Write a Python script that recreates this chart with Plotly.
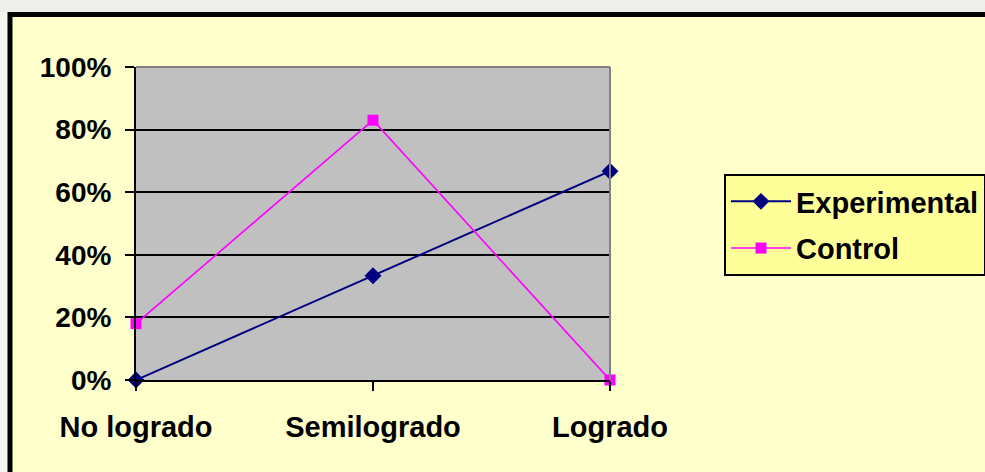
import plotly.graph_objects as go

categories = ["No logrado", "Semilogrado", "Logrado"]
experimental = [0, 33.3, 66.7]
control = [18, 83, 0]
y_ticks = [0, 20, 40, 60, 80, 100]
y_tick_labels = ["0%", "20%", "40%", "60%", "80%", "100%"]

FIG_W, FIG_H = 985, 472
L, R, T, B = 136, 375, 67, 92
PW = FIG_W - L - R
PH = FIG_H - T - B

def xp(px):
    return (px - L) / PW

def yp(py):
    return (FIG_H - B - py) / PH

FONT = "Liberation Sans, Arial, sans-serif"

fig = go.Figure()
fig.add_trace(go.Scatter(
    x=list(range(len(categories))), y=experimental, name="Experimental",
    mode="lines+markers", legendgroup="a",
    line=dict(color="#000080", width=2),
    marker=dict(symbol="diamond", size=13, color="#000080"),
    cliponaxis=False,
))
fig.add_trace(go.Scatter(
    x=list(range(len(categories))), y=control, name="Control",
    mode="lines+markers", legendgroup="b",
    line=dict(color="#FF00FF", width=1.6),
    marker=dict(symbol="square", size=11, color="#FF00FF"),
    cliponaxis=False,
))

shapes = [
    # watermark strip above chart
    dict(type="rect", xref="paper", yref="paper", x0=xp(-5), x1=xp(FIG_W + 10),
         y0=yp(12), y1=yp(-5), fillcolor="#EEEEEA", line=dict(width=0), layer="above"),
    # strip left of chart
    dict(type="rect", xref="paper", yref="paper", x0=xp(-5), x1=xp(8),
         y0=yp(FIG_H + 10), y1=yp(12), fillcolor="#F4F4F0", line=dict(width=0), layer="above"),
    # chart border
    dict(type="line", xref="paper", yref="paper", x0=xp(10), x1=xp(10),
         y0=yp(12), y1=yp(FIG_H + 10), line=dict(color="black", width=5), layer="above"),
    dict(type="line", xref="paper", yref="paper", x0=xp(8), x1=xp(FIG_W + 10),
         y0=yp(14.5), y1=yp(14.5), line=dict(color="black", width=5), layer="above"),
    # plot area top/right border
    dict(type="line", xref="paper", yref="paper", x0=0, x1=1, y0=1, y1=1,
         line=dict(color="#808080", width=2), layer="above"),
    dict(type="line", xref="paper", yref="paper", x0=1, x1=1, y0=0, y1=1,
         line=dict(color="#808080", width=2), layer="above"),
]

fig.update_layout(
    width=FIG_W, height=FIG_H,
    margin=dict(l=L, r=R, t=T, b=B, autoexpand=False),
    paper_bgcolor="#FFFFCC",
    plot_bgcolor="#C0C0C0",
    font=dict(family=FONT, color="black", size=28, weight="bold"),
    showlegend=True,
    legend=dict(
        x=xp(724), y=yp(174), xanchor="left", yanchor="top",
        bgcolor="#FFFF99", bordercolor="black", borderwidth=2,
        font=dict(family=FONT, size=29, color="black", weight="bold"),
        traceorder="grouped", tracegroupgap=6, itemwidth=60,
    ),
    xaxis=dict(
        range=[0, len(categories) - 1], tickmode="array",
        tickvals=list(range(len(categories))), ticktext=categories,
        showgrid=False, zeroline=False,
        showline=True, linecolor="black", linewidth=2,
        ticks="outside", ticklen=9, tickwidth=2, tickcolor="black",
        tickfont=dict(family=FONT, size=29, color="black", weight="bold"),
        ticklabelstandoff=11,
    ),
    yaxis=dict(
        range=[0, 100], tickmode="array", tickvals=y_ticks, ticktext=y_tick_labels,
        showgrid=True, gridcolor="black", gridwidth=2, zeroline=False,
        showline=True, linecolor="black", linewidth=2,
        ticks="outside", ticklen=9, tickwidth=2, tickcolor="black",
        tickfont=dict(family=FONT, size=28, color="black", weight="bold"),
        ticklabelstandoff=8,
    ),
    shapes=shapes,
)

fig.write_html(
    "out.html",
    config={"displayModeBar": False},
    post_script="document.body.style.margin='0';document.body.style.overflow='hidden';",
)
